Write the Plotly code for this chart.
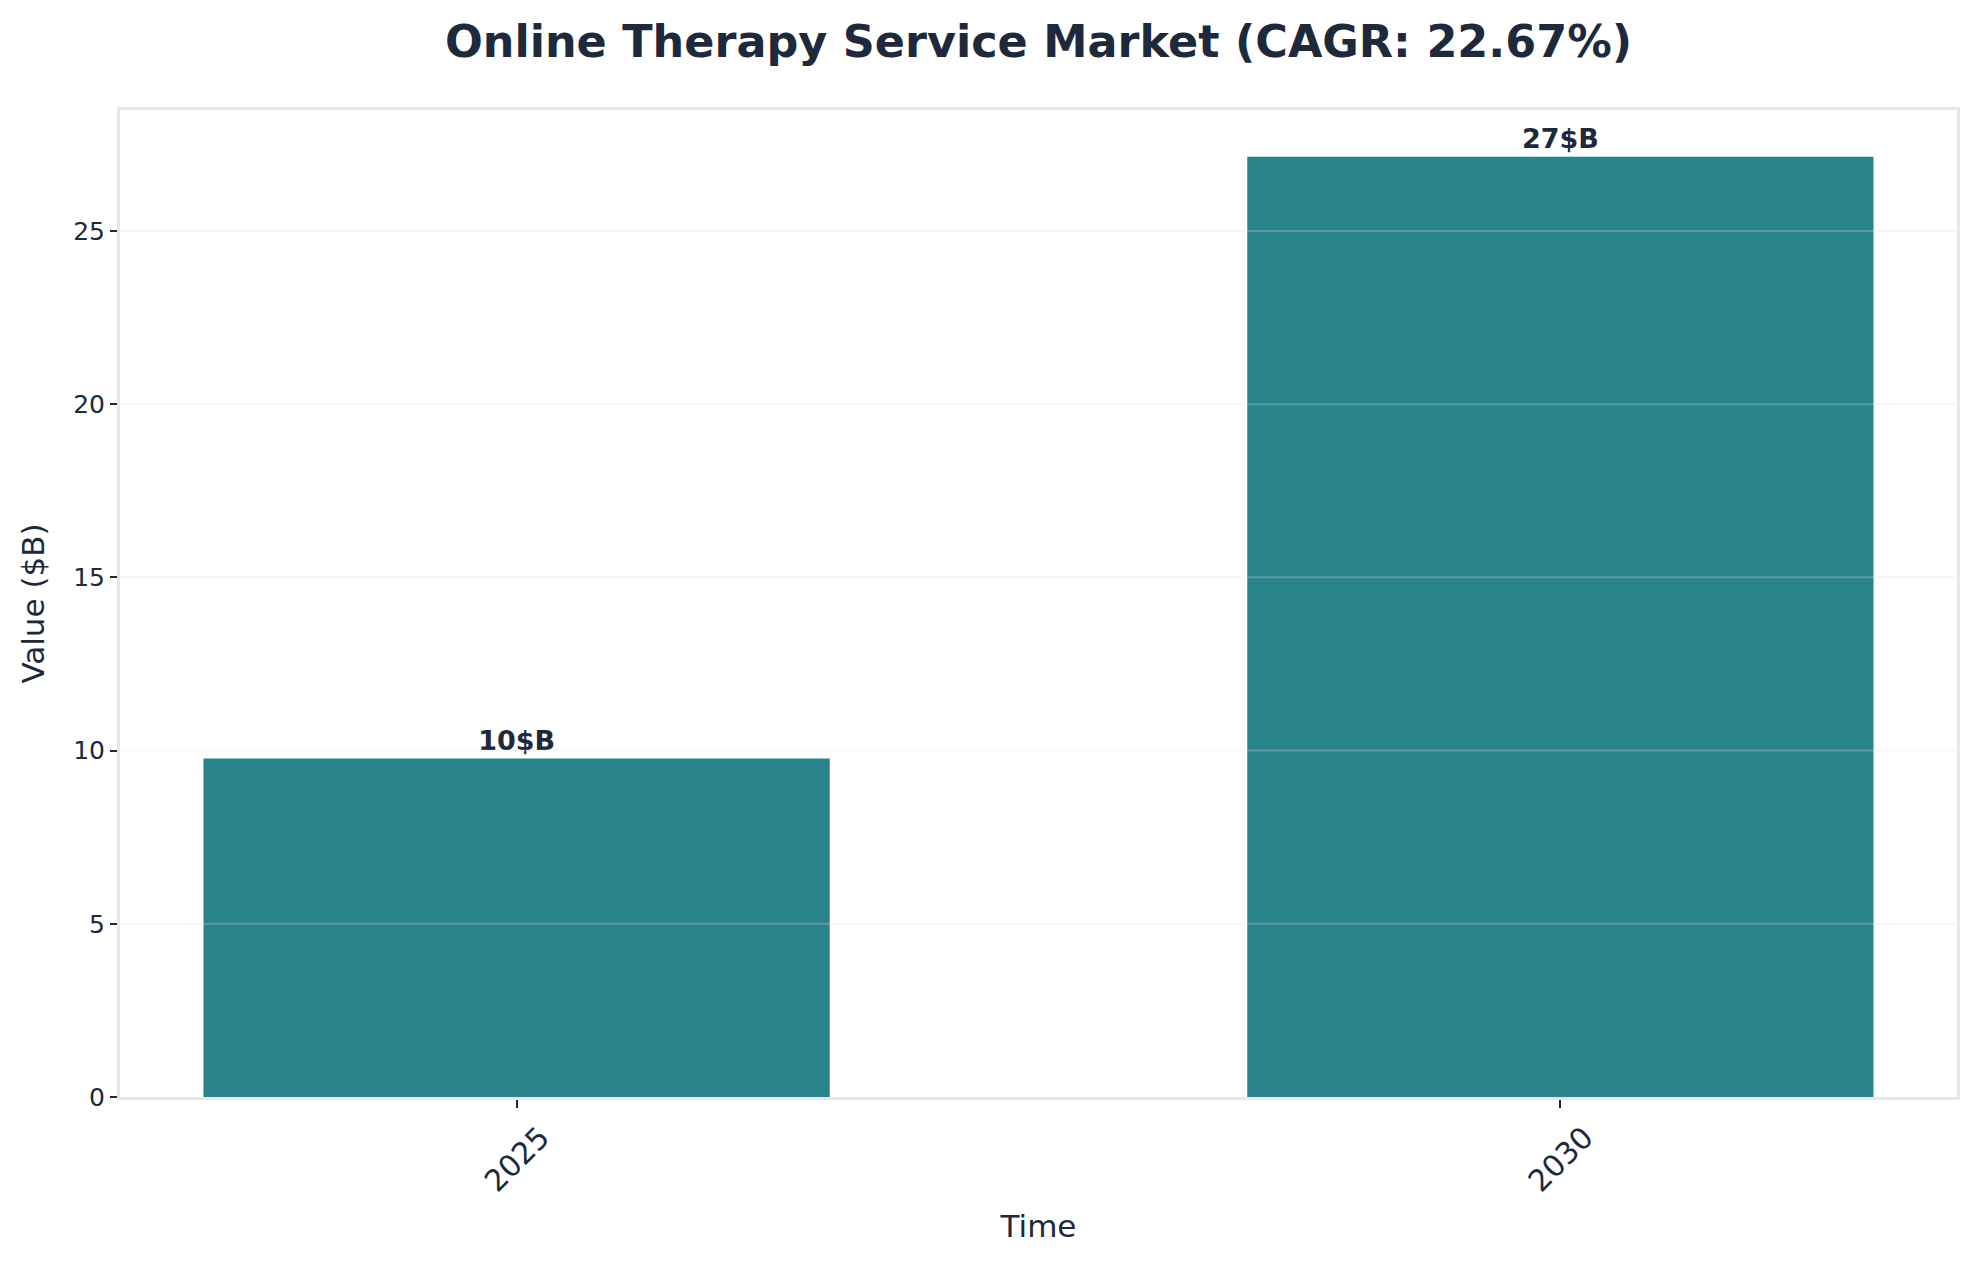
#!/usr/bin/env python3
"""Online therapy market size bar chart, 2025 vs 2030."""
import plotly.graph_objects as go

years = ["2025", "2030"]
values = [9.77, 27.14]
bar_labels = ["10$B", "27$B"]
y_ticks = [0, 5, 10, 15, 20, 25]
cagr = 22.67

ink = "#1E293B"
teal = "#2A828B"
spine = "#E2E8F0"
grid = "rgba(215,222,230,0.28)"
font_family = "DejaVu Sans, Arial, sans-serif"

fig = go.Figure()
fig.add_trace(
    go.Bar(
        x=years,
        y=values,
        width=0.6,
        marker=dict(color=teal, line=dict(width=0)),
        text=bar_labels,
        textposition="outside",
        textfont=dict(family=font_family, size=27, color=ink, weight="bold"),
        cliponaxis=False,
        hovertemplate="%{x}: %{y:.2f} $B<extra></extra>",
    )
)

# grid drawn over the bars, like the matplotlib original
for yv in y_ticks[1:]:
    fig.add_hline(y=yv, line=dict(color=grid, width=2), layer="above")
for yr in years:
    fig.add_vline(x=yr, line=dict(color=grid, width=2), layer="above")

fig.update_layout(
    width=1977,
    height=1265,
    plot_bgcolor="#FFFFFF",
    paper_bgcolor="#FFFFFF",
    font=dict(family=font_family, size=26, color=ink),
    margin=dict(l=120, r=20, t=110, b=168),
    showlegend=False,
    title=dict(
        text=f"<b>Online Therapy Service Market (CAGR: {cagr:.2f}%)</b>",
        xref="paper",
        x=0.5,
        xanchor="center",
        y=1 - 41 / 1265,
        yanchor="middle",
        font=dict(size=44.5, color=ink),
    ),
)

fig.update_xaxes(
    range=[-0.38, 1.38],
    tickangle=-45,
    tickfont=dict(size=30, color=ink),
    ticklabelshift=24,
    ticks="outside",
    ticklen=8,
    tickwidth=2,
    tickcolor=ink,
    showgrid=False,
    showline=True,
    linecolor=spine,
    linewidth=3,
    mirror=True,
    zeroline=False,
    title=dict(text="Time", font=dict(size=31, color=ink), standoff=18),
)
fig.update_yaxes(
    range=[0, 28.49],
    tickvals=y_ticks,
    tickfont=dict(size=25, color=ink),
    ticks="outside",
    ticklen=7,
    tickwidth=2,
    tickcolor=ink,
    showgrid=False,
    showline=True,
    linecolor=spine,
    linewidth=3,
    mirror=True,
    zeroline=False,
    title=dict(text="Value ($B)", font=dict(size=31, color=ink), standoff=20),
)

fig.write_html(
    "out.html",
    config={"displayModeBar": False},
    post_script="document.body.style.margin = '0';",
)
